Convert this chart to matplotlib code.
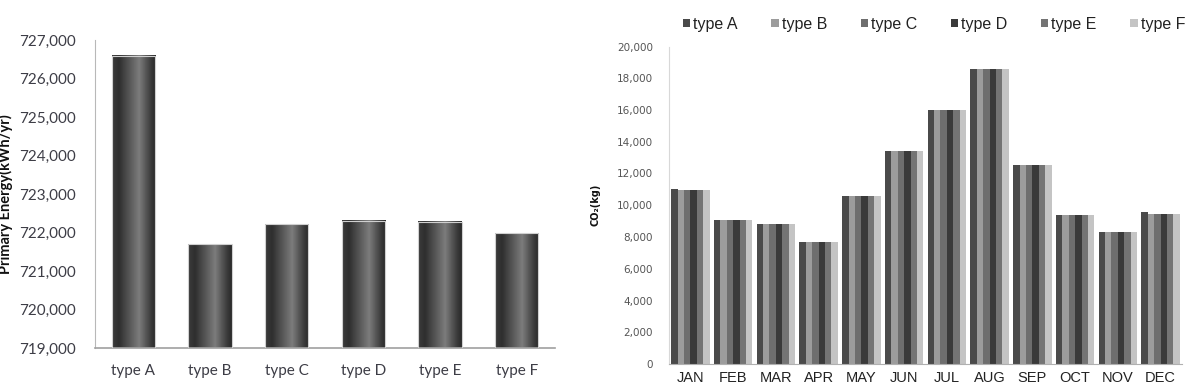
import numpy as np
import matplotlib
matplotlib.use("Agg")
import matplotlib.pyplot as plt
from matplotlib.colors import LinearSegmentedColormap
from matplotlib.patches import Patch
from matplotlib.ticker import FuncFormatter

# left chart: annual primary energy
types = ["type A", "type B", "type C", "type D", "type E", "type F"]
energy = [726590, 721700, 722210, 722310, 722280, 721980]

# right chart: monthly CO2 per type
months = ["JAN", "FEB", "MAR", "APR", "MAY", "JUN",
          "JUL", "AUG", "SEP", "OCT", "NOV", "DEC"]
co2_a = [11000, 9060, 8790, 7700, 10570, 13400, 16010, 18600, 12550, 9370, 8330, 9580]
co2_b = [10940, 9060, 8790, 7700, 10560, 13390, 16000, 18590, 12550, 9370, 8330, 9480]
co2_c = [10940, 9060, 8790, 7700, 10560, 13390, 16000, 18590, 12550, 9370, 8330, 9480]
co2_d = [10950, 9060, 8790, 7700, 10560, 13390, 16000, 18590, 12550, 9370, 8330, 9480]
co2_e = [10940, 9060, 8790, 7700, 10560, 13390, 16000, 18590, 12550, 9370, 8330, 9480]
co2_f = [10940, 9060, 8790, 7700, 10560, 13390, 16000, 18590, 12550, 9370, 8330, 9480]
series = [co2_a, co2_b, co2_c, co2_d, co2_e, co2_f]
colors = ["#4a4a4a", "#9c9c9c", "#6e6e6e", "#3a3a3a", "#747474", "#c4c4c4"]

fig = plt.figure(figsize=(11.91, 3.86), dpi=100)

# ---- left chart ----
ax1 = fig.add_axes([95 / 1191, 1 - 348 / 386, 460 / 1191, 308 / 386])
ymin, ymax = 719000, 727000
cyl = LinearSegmentedColormap.from_list(
    "cyl", [(0, "#3c3c3c"), (0.15, "#2e2e2e"), (0.62, "#7c7c7c"), (0.9, "#3a3a3a"), (1, "#2a2a2a")])
grad = np.linspace(0, 1, 64).reshape(1, -1)
w = 0.565
x1 = np.arange(len(types))
bars = ax1.bar(x1, np.array(energy) - ymin, bottom=ymin, width=w,
               color="none", edgecolor="#d0d0d0", linewidth=0.8, zorder=3)
for b in bars:
    ax1.imshow(grad, cmap=cyl, aspect="auto", zorder=2,
               extent=[b.get_x(), b.get_x() + b.get_width(), ymin, ymin + b.get_height()])
ax1.set_xlim(-0.5, len(types) - 0.5)
ax1.set_ylim(ymin, ymax)
ax1.set_yticks(np.arange(ymin, ymax + 1, 1000))
ax1.yaxis.set_major_formatter(FuncFormatter(lambda v, p: f"{v:,.0f}"))
ax1.set_xticks(x1)
ax1.set_xticklabels(types)
ax1.tick_params(length=0, labelsize=11, labelcolor="#3d3d46")
ax1.tick_params(axis="y", pad=14)
ax1.tick_params(axis="x", pad=11.5)
for lab in ax1.get_xticklabels() + ax1.get_yticklabels():
    lab.set_family("Lato")
for s in ["top", "right"]:
    ax1.spines[s].set_visible(False)
ax1.spines["left"].set_color("#b8b8b8")
ax1.spines["bottom"].set_color("#a0a0a0")
ax1.spines["bottom"].set_linewidth(1.2)
ax1.set_ylabel("Primary Energy(kWh/yr)", fontsize=10.5, fontweight="bold", family="Lato", color="#111111")
ax1.yaxis.set_label_coords(-0.178, 0.5)

# ---- right chart ----
ax2 = fig.add_axes([669 / 1191, 1 - 364 / 386, 513 / 1191, 317.5 / 386])
x2 = np.arange(len(months))
bw = 0.15
for i, (vals, c) in enumerate(zip(series, colors)):
    ax2.bar(x2 + (i - 2.5) * bw, vals, width=bw, color=c, linewidth=0, zorder=2)
ax2.set_xlim(-0.5, len(months) - 0.5)
ax2.set_ylim(0, 20000)
ax2.set_yticks(np.arange(0, 20001, 2000))
ax2.yaxis.set_major_formatter(FuncFormatter(lambda v, p: f"{v:,.0f}"))
ax2.set_xticks(x2)
ax2.set_xticklabels(months)
ax2.tick_params(length=0)
ax2.tick_params(axis="y", labelsize=7.5, labelcolor="#555555", pad=11.5)
ax2.tick_params(axis="x", labelsize=10.5, labelcolor="#222222", pad=5)
for lab in ax2.get_xticklabels():
    lab.set_family("Liberation Sans")
for s in ["top", "right"]:
    ax2.spines[s].set_visible(False)
ax2.spines["left"].set_color("#d8d8d8")
ax2.spines["bottom"].set_color("#b0b0b0")
ax2.set_ylabel("CO₂(kg)", fontsize=7, fontweight="bold", color="#111111")
ax2.yaxis.set_label_coords(-0.134, 0.5)

handles = [Patch(facecolor=c, edgecolor="none") for c in colors]
ax2.legend(handles, types, ncol=6, frameon=False, loc="center left",
           bbox_to_anchor=(683 / 1191, 1 - 24 / 386), bbox_transform=fig.transFigure,
           prop={"family": "Liberation Sans", "size": 11.5}, labelcolor="#222222",
           handlelength=0.45, handleheight=0.45, handletextpad=0.2,
           columnspacing=2.1, borderpad=0, borderaxespad=0)

fig.savefig("out.png", dpi=100)
